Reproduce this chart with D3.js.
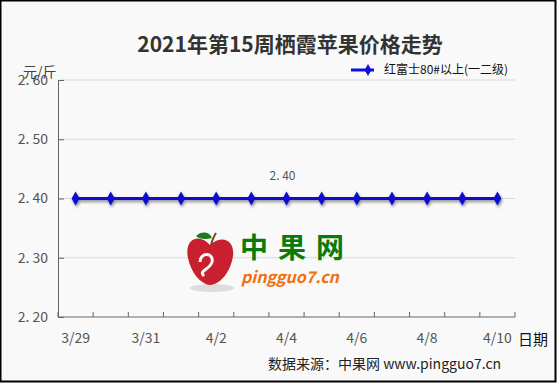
<!DOCTYPE html>
<html>
<head>
<meta charset="utf-8">
<script src="https://cdn.jsdelivr.net/npm/d3@7"></script>
<style>
  body { margin: 0; background: #fff; }
  svg text { font-family: "Noto Sans CJK SC", "DejaVu Sans", sans-serif; }
</style>
</head>
<body>
<svg id="chart" width="558" height="384"></svg>
<script>
const dates = ['3/29', '3/30', '3/31', '4/1', '4/2', '4/3', '4/4', '4/5', '4/6', '4/7', '4/8', '4/9', '4/10']
const prices = [2.40, 2.40, 2.40, 2.40, 2.40, 2.40, 2.40, 2.40, 2.40, 2.40, 2.40, 2.40, 2.40]
const yTicks = [2.20, 2.30, 2.40, 2.50, 2.60]
const xLabels = ['3/29', '3/31', '4/2', '4/4', '4/6', '4/8', '4/10']
const labelIndex = 6
const seriesName = '红富士80#以上(一二级)'

const w = 558, h = 384
const plotL = 58, plotR = 515, plotT = 80, plotB = 317

const svg = d3.select('#chart')

// background + border
svg.append('rect').attr('x', 0.5).attr('y', 0.5).attr('width', w - 3).attr('height', h - 3)
  .attr('fill', '#f9f9f9').attr('stroke', '#000').attr('stroke-width', 2)

const defs = svg.append('defs')
const f = defs.append('filter').attr('id', 'shadow').attr('x', '-10%').attr('y', '-50%').attr('width', '120%').attr('height', '300%')
f.append('feDropShadow').attr('dx', 1).attr('dy', 2).attr('stdDeviation', 1.5)
  .attr('flood-color', '#000').attr('flood-opacity', 0.45)

const x = d3.scaleBand().domain(dates).range([plotL, plotR])
const y = d3.scaleLinear().domain([2.2, 2.6]).range([plotB, plotT])

// gridlines
svg.append('g').selectAll('line').data(yTicks.slice(1)).enter().append('line')
  .attr('x1', plotL).attr('x2', plotR)
  .attr('y1', d => y(d)).attr('y2', d => y(d))
  .attr('stroke', '#d9d9d9').attr('stroke-width', 1)

// y axis
const yAxis = d3.axisLeft(y).tickValues(yTicks).tickSize(-6).tickPadding(10)
  .tickFormat(d => d3.format('.2f')(d).replace('.', '. '))
const gy = svg.append('g').attr('transform', `translate(${plotL},0)`).call(yAxis)
gy.select('.domain').attr('stroke', '#666')
gy.selectAll('.tick line').attr('stroke', '#666')
gy.selectAll('.tick text').attr('fill', '#555').attr('font-size', 14)
  .attr('font-family', '"DejaVu Sans", sans-serif').attr('x', -10)

// x axis
const xTickPos = dates.map(d => x(d)).concat([plotR])
const gx = svg.append('g')
gx.append('line').attr('x1', plotL).attr('x2', plotR).attr('y1', plotB).attr('y2', plotB)
  .attr('stroke', '#666')
gx.selectAll('.xt').data(xTickPos).enter().append('line')
  .attr('x1', d => d).attr('x2', d => d).attr('y1', plotB).attr('y2', plotB - 5)
  .attr('stroke', '#666')
gx.selectAll('text').data(xLabels).enter().append('text')
  .attr('x', d => x(d) + x.bandwidth() / 2).attr('y', 343)
  .attr('text-anchor', 'middle').attr('font-size', 14).attr('fill', '#555')
  .attr('font-family', '"DejaVu Sans", sans-serif')
  .text(d => d)

// watermark
const wm = svg.append('g')
wm.append('ellipse').attr('cx', 212).attr('cy', 288).attr('rx', 22).attr('ry', 4).attr('fill', '#ddd')
wm.append('path')
  .attr('d', 'M210,245 C198,232 184,240 188,258 C191,272 200,284 210,285 C222,284 231,270 233,256 C235,240 222,234 210,245 Z')
  .attr('fill', '#c8202e')
wm.append('path').attr('d', 'M200,262 C200,252 214,252 212,262 C210,270 198,270 204,276')
  .attr('fill', 'none').attr('stroke', '#f9f9f9').attr('stroke-width', 3)
wm.append('path').attr('d', 'M211,245 C213,238 214,236 216,233').attr('stroke', '#7a4a1a').attr('stroke-width', 2).attr('fill', 'none')
wm.append('path').attr('d', 'M196,236 C202,230 210,232 212,238 C205,240 199,239 196,236 Z').attr('fill', '#1f7a1f')
wm.append('text').attr('x', 240).attr('y', 258).attr('font-size', 28).attr('font-weight', 'bold')
  .attr('fill', '#0a7a0a').attr('letter-spacing', 10).text('中果网')
wm.append('text').attr('x', 241).attr('y', 283).attr('font-size', 16).attr('font-weight', 'bold')
  .attr('font-style', 'italic').attr('fill', '#f07010').attr('font-family', '"DejaVu Sans", sans-serif')
  .text('pingguo7.cn')

// series line
const line = d3.line().x((d, i) => x(dates[i]) + x.bandwidth() / 2).y(d => y(d))
const gs = svg.append('g').attr('filter', 'url(#shadow)')
gs.append('path').datum(prices).attr('d', line).attr('fill', 'none')
  .attr('stroke', '#0a0ad0').attr('stroke-width', 3)
const diamond = d3.symbol().type(d3.symbolDiamond).size(55)
gs.selectAll('.pt').data(prices).enter().append('path')
  .attr('d', diamond)
  .attr('transform', (d, i) => `translate(${x(dates[i]) + x.bandwidth() / 2},${y(d)})`)
  .attr('fill', '#0a0ad0')

// data label
svg.append('text')
  .attr('x', x(dates[labelIndex]) + x.bandwidth() / 2 - 4).attr('y', y(prices[labelIndex]) - 19)
  .attr('text-anchor', 'middle').attr('font-size', 12).attr('fill', '#555')
  .attr('font-family', '"DejaVu Sans", sans-serif')
  .text(d3.format('.2f')(prices[labelIndex]).replace('.', '. '))

// title
svg.append('text').attr('x', 290).attr('y', 52).attr('text-anchor', 'middle')
  .attr('font-size', 21).attr('font-weight', 'bold').attr('fill', '#333')
  .text('2021年第15周栖霞苹果价格走势')

// unit
svg.append('text').attr('x', 23).attr('y', 77).attr('font-size', 14).attr('fill', '#444').text('元/斤')

// legend
svg.append('line').attr('x1', 351).attr('x2', 374).attr('y1', 70).attr('y2', 70)
  .attr('stroke', '#1010d8').attr('stroke-width', 3)
svg.append('path').attr('d', d3.symbol().type(d3.symbolDiamond).size(40))
  .attr('transform', 'translate(368,70)').attr('fill', '#1010d8')
svg.append('text').attr('x', 384).attr('y', 74).attr('font-size', 12).attr('fill', '#111')
  .text(seriesName)

// x axis name
svg.append('text').attr('x', 518).attr('y', 345).attr('font-size', 15).attr('fill', '#111').text('日期')

// source
svg.append('text').attr('x', 268).attr('y', 369).attr('font-size', 14).attr('fill', '#222')
  .text('数据来源：中果网 www.pingguo7.cn')
</script>
</body>
</html>
